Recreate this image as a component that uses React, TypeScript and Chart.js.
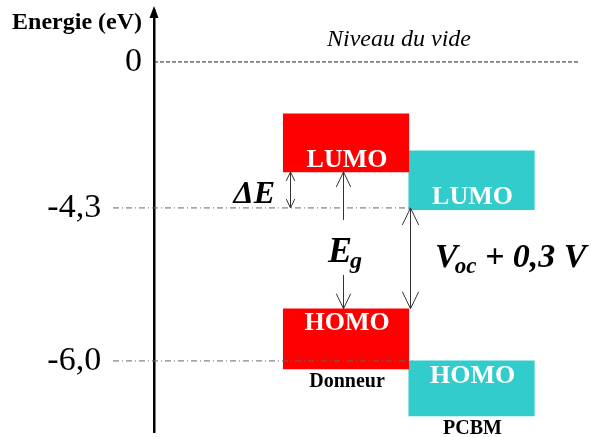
import { useEffect, useRef } from 'react';
import { Chart, registerables, LinearScale } from 'chart.js';

// ---------------- data (energies in eV) ----------------
const TICK_VALUES = [0, -4.3, -6.0];
const TICK_LABELS = ['0', '-4,3', '-6,0'];
const MATERIALS = ['Donneur', 'PCBM'];
const MATERIAL_X = [1, 2];
const LEVEL_NAMES = ['LUMO', 'HOMO'];
// each box: [bottom, top]
const DONOR_LUMO = [-3.24, -1.53];
const DONOR_HOMO = [-6.09, -5.42];
const PCBM_LUMO = [-4.32, -2.62];
const PCBM_HOMO = [-6.61, -6.0];
// reference level line extents (x start, x end)
const VACUUM_LINE_X = [-0.53, 2.864];
const ACCEPTOR_LUMO_LINE_X = [-0.857, 1.5];
const ACCEPTOR_HOMO_LINE_X = [-0.857, 1.53];
// arrows: x, from, to, head at start, head at end
const ARROW_X = [0.554, 0.976, 0.976, 1.51];
const ARROW_FROM = [-4.3, -4.433, -5.044, -4.3];
const ARROW_TO = [-3.24, -3.24, -5.42, -5.42];
const ARROW_HEAD_START = [true, false, false, true];
const ARROW_HEAD_END = [true, true, true, true];
const ARROW_SIZE = [9, 15, 15, 17];

const SERIF = '"Liberation Serif", "Times New Roman", serif';
const RED = '#ff0000';
const CYAN = '#33cccc';

class StretchedScale extends (LinearScale as any) {
  static id = 'stretched';
  static defaults = (LinearScale as any).defaults;
  tr(v: number) {
    const p = this.options.pivot;
    const k = this.options.factor;
    return v >= p ? v : p + (v - p) * k;
  }
  inv(t: number) {
    const p = this.options.pivot;
    const k = this.options.factor;
    return t >= p ? t : p + (t - p) / k;
  }
  getPixelForValue(value: number) {
    if (value === null || value === undefined || isNaN(value)) return NaN;
    const a = this.tr(this.min);
    const b = this.tr(this.max);
    return this.getPixelForDecimal((this.tr(value) - a) / (b - a));
  }
  getValueForPixel(pixel: number) {
    const a = this.tr(this.min);
    const b = this.tr(this.max);
    return this.inv(a + this.getDecimalForPixel(pixel) * (b - a));
  }
}

Chart.register(...registerables, StretchedScale as any);

function drawArrow(ctx: CanvasRenderingContext2D, x: number, y1: number, y2: number, hs: boolean, he: boolean, len: number) {
  const half = len * 0.48;
  ctx.beginPath();
  ctx.moveTo(x, y1);
  ctx.lineTo(x, y2);
  ctx.stroke();
  const head = (tip: number, dir: number) => {
    ctx.beginPath();
    ctx.moveTo(x - half, tip + dir * len);
    ctx.lineTo(x, tip);
    ctx.lineTo(x + half, tip + dir * len);
    ctx.stroke();
  };
  if (hs) head(y1, Math.sign(y2 - y1));
  if (he) head(y2, Math.sign(y1 - y2));
}

const annotations = {
  id: 'annotations',
  afterDatasetsDraw(chart: any) {
    const { ctx, chartArea } = chart;
    const xs = chart.scales.x;
    const ys = chart.scales.y;
    const px = (v: number) => xs.getPixelForValue(v);
    const py = (v: number) => ys.getPixelForValue(v);
    ctx.save();

    // box labels and material names
    let bi = 0;
    chart.data.datasets.forEach((ds: any, di: number) => {
      const meta = chart.getDatasetMeta(di);
      if (meta.type !== 'bar') return;
      meta.data.forEach((el: any, i: number) => {
        const p = el.getProps(['x', 'y', 'base'], true);
        const top = Math.min(p.y, p.base);
        const bottom = Math.max(p.y, p.base);
        ctx.fillStyle = '#ffffff';
        ctx.font = `bold 26px ${SERIF}`;
        ctx.textAlign = 'center';
        ctx.textBaseline = 'middle';
        ctx.fillText(LEVEL_NAMES[i], p.x + 1, i === 0 ? bottom - 12 : top + 15);
        if (i === 1) {
          ctx.fillStyle = '#000';
          ctx.font = `bold 20px ${SERIF}`;
          ctx.fillText(MATERIALS[bi], p.x + 1, bottom + 13);
        }
      });
      bi++;
    });

    // arrows
    ctx.strokeStyle = '#333';
    ctx.lineWidth = 1;
    ARROW_X.forEach((ax, i) => {
      drawArrow(ctx, Math.round(px(ax)) + 0.5, py(ARROW_FROM[i]), py(ARROW_TO[i]), ARROW_HEAD_START[i], ARROW_HEAD_END[i], ARROW_SIZE[i]);
    });

    // axis arrow head
    const ax0 = chartArea.left;
    ctx.fillStyle = '#000';
    ctx.beginPath();
    ctx.moveTo(ax0, chartArea.top - 4);
    ctx.lineTo(ax0 - 4.5, chartArea.top + 8);
    ctx.lineTo(ax0 + 4.5, chartArea.top + 8);
    ctx.closePath();
    ctx.fill();

    // axis title
    ctx.fillStyle = '#000';
    ctx.font = `bold 24px ${SERIF}`;
    ctx.textAlign = 'right';
    ctx.textBaseline = 'middle';
    ctx.fillText('Energie (eV)', ax0 - 12, 23);

    // vacuum level text
    ctx.font = `italic 24px ${SERIF}`;
    ctx.textAlign = 'center';
    ctx.fillText('Niveau du vide', px(1.422), py(0.648));

    // ΔE
    ctx.font = `bold italic 32px ${SERIF}`;
    ctx.textAlign = 'right';
    ctx.textBaseline = 'alphabetic';
    ctx.fillText('\u0394E', px(0.434), py(-3.9) + 9);

    // E_g
    ctx.textAlign = 'left';
    const egX = px(0.856);
    const egBase = py(-4.856) + 4;
    ctx.font = `bold italic 36px ${SERIF}`;
    ctx.fillText('E', egX, egBase);
    const wE = ctx.measureText('E').width;
    ctx.font = `bold italic 24px ${SERIF}`;
    ctx.fillText('g', egX + wE - 2, egBase + 6);

    // Voc + 0,3 V
    const vX = px(1.709);
    const vBase = egBase + 5;
    ctx.font = `bold italic 34px ${SERIF}`;
    ctx.fillText('V', vX, vBase);
    let cur = vX + ctx.measureText('V').width - 3;
    ctx.font = `bold italic 23px ${SERIF}`;
    ctx.fillText('oc', cur, vBase + 6);
    cur += ctx.measureText('oc').width;
    ctx.font = `bold italic 34px ${SERIF}`;
    ctx.fillText(' + 0,3 V', cur, vBase);

    ctx.restore();
  },
};

function lineData(xr: number[], y: number) {
  return [{ x: xr[0], y }, { x: xr[1], y }];
}

export default function App() {
  const ref = useRef<HTMLCanvasElement>(null);
  useEffect(() => {
    document.body.style.margin = '0';
    const barCommon = {
      type: 'bar' as const,
      grouped: false,
      barPercentage: 1,
      categoryPercentage: 1,
      borderWidth: 0,
      order: 2,
    };
    const lineCommon = {
      type: 'line' as const,
      pointRadius: 0,
      borderWidth: 1,
      clip: false,
      order: 1,
      fill: false,
    };
    const chart = new Chart(ref.current as HTMLCanvasElement, {
      type: 'bar',
      data: {
        datasets: [
          {
            ...barCommon,
            label: MATERIALS[0],
            backgroundColor: RED,
            data: [
              { x: MATERIAL_X[0], y: DONOR_LUMO },
              { x: MATERIAL_X[0], y: DONOR_HOMO },
            ],
          },
          {
            ...barCommon,
            label: MATERIALS[1],
            backgroundColor: CYAN,
            data: [
              { x: MATERIAL_X[1], y: PCBM_LUMO },
              { x: MATERIAL_X[1], y: PCBM_HOMO },
            ],
          },
          {
            ...lineCommon,
            label: 'vide',
            borderColor: '#222',
            borderDash: [4, 2],
            data: lineData(VACUUM_LINE_X, TICK_VALUES[0]),
          },
          {
            ...lineCommon,
            label: 'LUMO PCBM',
            borderColor: '#666',
            borderDash: [6, 3, 1, 3],
            data: lineData(ACCEPTOR_LUMO_LINE_X, TICK_VALUES[1]),
          },
          {
            ...lineCommon,
            label: 'HOMO PCBM',
            borderColor: '#666',
            borderDash: [6, 3, 1, 3],
            data: lineData(ACCEPTOR_HOMO_LINE_X, TICK_VALUES[2]),
          },
        ] as any,
      },
      options: {
        responsive: false,
        animation: false,
        events: [],
        layout: { padding: { top: 10, right: 11, bottom: 5, left: 0 } },
        plugins: { legend: { display: false }, tooltip: { enabled: false } },
        scales: {
          x: {
            type: 'linear',
            display: false,
            offset: false,
            grid: { offset: false },
            bounds: 'data',
            min: VACUUM_LINE_X[0],
            max: VACUUM_LINE_X[1],
            afterBuildTicks: (s: any) => {
              s.ticks = [{ value: VACUUM_LINE_X[0] }];
            },
          },
          y: {
            type: 'stretched',
            pivot: -4.3,
            factor: 2.6507,
            bounds: 'data',
            min: -6.79,
            max: 1.53,
            afterBuildTicks: (s: any) => {
              s.ticks = [...TICK_VALUES].sort((a, b) => a - b).map((v) => ({ value: v }));
            },
            afterFit: (s: any) => {
              s.width = 154;
              s.paddingTop = 0;
              s.paddingBottom = 0;
            },
            grid: { display: true, drawOnChartArea: false, drawTicks: false },
            border: { display: true, color: '#000', width: 2.5 },
            ticks: {
              autoSkip: false,
              padding: 12,
              color: '#000',
              font: { family: SERIF, size: 34 },
              callback: (value: any) => {
                const i = TICK_VALUES.indexOf(Number(value));
                const lbl = TICK_LABELS[i] ?? '';
                return i === 0 ? lbl : lbl + '    \u2009';
              },
            },
          } as any,
        },
      },
      plugins: [annotations],
    } as any);
    return () => chart.destroy();
  }, []);
  return <canvas ref={ref} width={591} height={437} style={{ display: 'block' }} />;
}
